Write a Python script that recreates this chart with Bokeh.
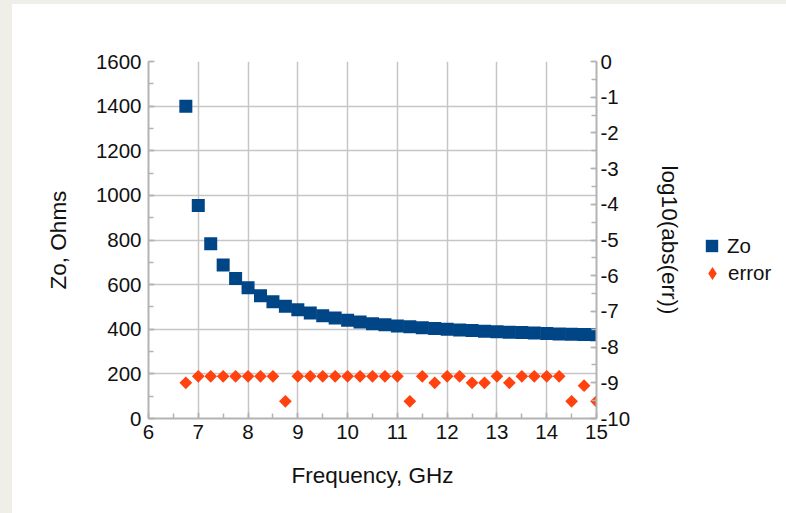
import math
from bokeh.plotting import figure
from bokeh.models import (Range1d, LinearAxis, SingleIntervalTicker, Legend,
                          LegendItem, PrintfTickFormatter)
from bokeh.layouts import row
from bokeh.embed import file_html
from bokeh.resources import INLINE

# ---- data ----
freq = [6.75, 7.0, 7.25, 7.5, 7.75, 8.0, 8.25, 8.5, 8.75, 9.0, 9.25, 9.5,
        9.75, 10.0, 10.25, 10.5, 10.75, 11.0, 11.25, 11.5, 11.75, 12.0,
        12.25, 12.5, 12.75, 13.0, 13.25, 13.5, 13.75, 14.0, 14.25, 14.5,
        14.75, 15.0]
zo = [1400, 955, 783, 688, 627, 586, 550, 523, 503, 487, 473, 461,
      450, 440, 432, 425, 420, 415, 411, 407, 403, 400,
      397, 394, 391, 389, 387, 385, 383, 381, 379, 378,
      376, 375]
log_err = [-9.0, -8.82, -8.82, -8.82, -8.82, -8.82, -8.82, -8.82, -9.52, -8.82,
           -8.82, -8.82, -8.82, -8.82, -8.82, -8.82, -8.82, -8.82, -9.52, -8.82,
           -9.0, -8.82, -8.82, -9.0, -9.0, -8.82, -9.0, -8.82, -8.82, -8.82,
           -8.82, -9.52, -9.08, -9.52]
x_label = "Frequency, GHz"
y_label = "Zo, Ohms"
y2_label = "log10(abs(err))"
series_names = ["Zo", "error"]

FONT = "Liberation Sans"
TICK_FS = "20.5px"
TITLE_FS = "22.5px"
AXIS_GRAY = "#b3b3b3"
GRID_GRAY = "#c6c6c6"
BLUE = "#004586"
ORANGE = "#ff420e"
TEXT = "#111111"
PAGE_BG = "#efeee7"

p = figure(width=684, height=509, output_backend="svg", toolbar_location=None,
           x_range=Range1d(6, 15), y_range=Range1d(0, 1600),
           min_border_left=136, min_border_right=100, min_border_top=57,
           min_border_bottom=95, background_fill_color="white",
           border_fill_color="white", outline_line_color=None)
p.margin = (4, 0, 0, 12)
p.extra_y_ranges = {"err": Range1d(-10, 0)}

xt = SingleIntervalTicker(interval=1, num_minor_ticks=2)
yt = SingleIntervalTicker(interval=200, num_minor_ticks=2)
ax_b = p.xaxis[0]
ax_l = p.yaxis[0]
ax_b.ticker = xt
ax_l.ticker = yt
p.xgrid.ticker = xt
p.ygrid.ticker = yt
p.xgrid.bounds = (5.9, 15.1)
p.ygrid.bounds = (-1, 1601)
for g in (p.xgrid, p.ygrid):
    g.grid_line_color = GRID_GRAY
    g.grid_line_width = 1.5

ax_r = LinearAxis(y_range_name="err",
                  ticker=SingleIntervalTicker(interval=1, num_minor_ticks=2),
                  formatter=PrintfTickFormatter(format="%d"))
p.add_layout(ax_r, "right")

ax_b.axis_label = x_label
ax_l.axis_label = y_label
ax_r.axis_label = y2_label
ax_b.formatter = PrintfTickFormatter(format="%d")
ax_l.formatter = PrintfTickFormatter(format="%d")

for ax in (ax_b, ax_l, ax_r):
    ax.axis_line_color = AXIS_GRAY
    ax.axis_line_width = 2
    ax.major_tick_line_color = AXIS_GRAY
    ax.minor_tick_line_color = AXIS_GRAY
    ax.major_tick_line_width = 1.5
    ax.minor_tick_line_width = 1.5
    ax.major_tick_out = 0
    ax.minor_tick_out = 0
    ax.major_tick_in = 6
    ax.minor_tick_in = 5
    ax.major_label_text_font = FONT
    ax.major_label_text_font_size = TICK_FS
    ax.major_label_text_color = TEXT
    ax.axis_label_text_font = FONT
    ax.axis_label_text_font_size = TITLE_FS
    ax.axis_label_text_font_style = "normal"
    ax.axis_label_text_color = TEXT

ax_b.major_label_standoff = 6
ax_b.axis_label_standoff = 21
ax_l.major_label_standoff = 7
ax_l.axis_label_standoff = 22
ax_r.major_label_standoff = 4
ax_r.axis_label_standoff = 24

p.scatter(freq, zo, marker="square", size=13, fill_color=BLUE,
          line_color=None)
p.scatter(freq, log_err, marker="square", angle=math.pi / 4, size=9,
          fill_color=ORANGE, line_color=None, y_range_name="err")

# ---- legend panel (to the right of the chart) ----
q = figure(width=90, height=509, output_backend="svg", toolbar_location=None,
           min_border=0, x_axis_type=None, y_axis_type=None,
           outline_line_color=None, background_fill_color="white",
           border_fill_color="white")
q.margin = (4, 0, 0, 0)
q.grid.visible = False
k1 = q.scatter(freq, zo, marker="square", fill_color=BLUE, line_color=None,
               visible=False)
k2 = q.scatter(freq, log_err, marker="diamond", fill_color=ORANGE,
               line_color=None, visible=False)

common = dict(padding=0, margin=0, spacing=0, border_line_color=None,
              background_fill_alpha=0, inactive_fill_alpha=0,
              label_standoff=0, label_text_font=FONT,
              label_text_font_size=TICK_FS, label_text_color=TEXT)
leg1 = Legend(items=[LegendItem(label=series_names[0], renderers=[k1])],
              location=(0, 157), glyph_width=31, glyph_height=31, **common)
leg2 = Legend(items=[LegendItem(label=series_names[1], renderers=[k2])],
              location=(0, 129), glyph_width=32, glyph_height=32, **common)
q.add_layout(leg1)
q.add_layout(leg2)

bg = ("linear-gradient(to right, %s 12px, transparent 12px), "
      "linear-gradient(to bottom, %s 4px, white 4px)") % (PAGE_BG, PAGE_BG)
layout = row(p, q, styles={"background": bg})
open("out.html", "w").write(file_html(layout, INLINE))
